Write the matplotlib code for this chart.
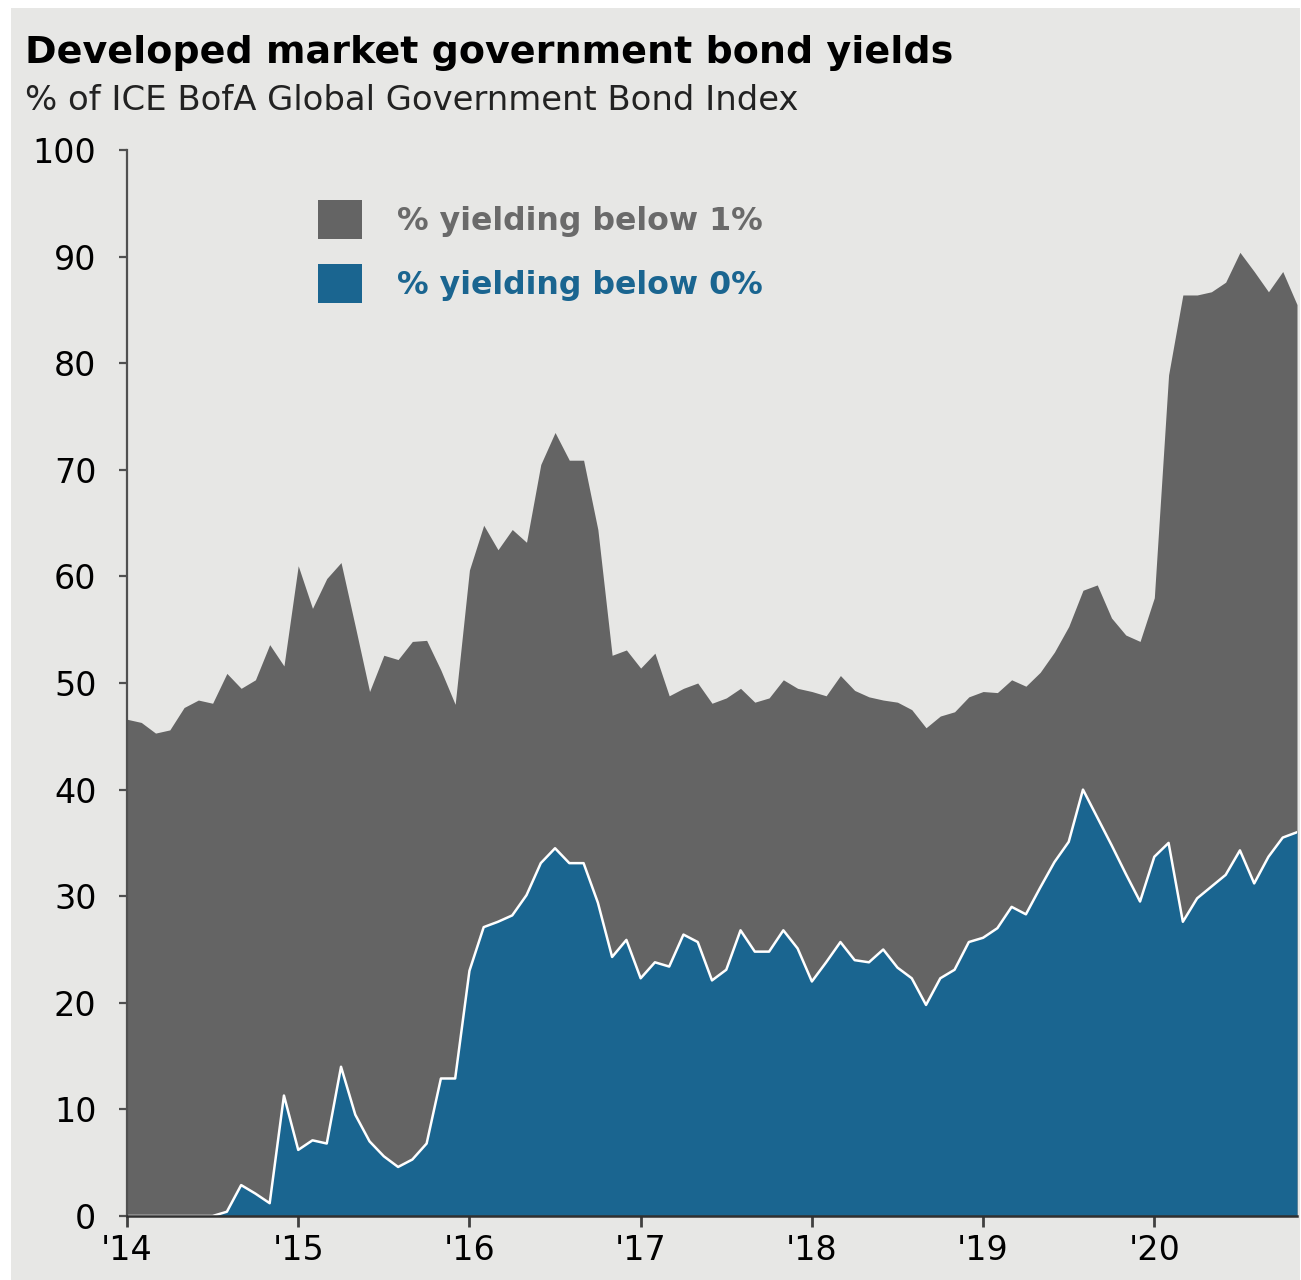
import numpy as np
import matplotlib
matplotlib.use("Agg")
import matplotlib.pyplot as plt
from matplotlib.patches import Rectangle, Patch

plt.rcParams['font.family'] = ['DejaVu Sans']

# monthly readings, Jan 2014 .. Nov 2020 (% of index)
below_1pct = [
    46.6, 46.3, 45.3, 45.6, 47.7, 48.4, 48.1, 50.9, 49.5, 50.3, 53.6, 51.6,   # 2014
    61.0, 57.0, 59.8, 61.3, 55.3, 49.2, 52.6, 52.2, 53.9, 54.0, 51.2, 48.0,   # 2015
    60.6, 64.8, 62.5, 64.4, 63.2, 70.5, 73.5, 70.9, 70.9, 64.4, 52.6, 53.1,   # 2016
    51.4, 52.8, 48.8, 49.5, 50.0, 48.1, 48.6, 49.5, 48.2, 48.6, 50.3, 49.5,   # 2017
    49.2, 48.8, 50.7, 49.3, 48.7, 48.4, 48.2, 47.5, 45.8, 46.9, 47.3, 48.7,   # 2018
    49.2, 49.1, 50.3, 49.7, 51.0, 52.9, 55.3, 58.7, 59.2, 56.1, 54.5, 53.9,   # 2019
    58.0, 78.9, 86.4, 86.4, 86.7, 87.6, 90.4, 88.6, 86.7, 88.6, 85.5,         # 2020
]
below_0pct = [
    0.0, 0.0, 0.0, 0.0, 0.0, 0.0, 0.0, 0.4, 2.9, 2.1, 1.2, 11.3,
    6.2, 7.1, 6.8, 14.0, 9.5, 7.0, 5.6, 4.6, 5.3, 6.8, 12.9, 12.9,
    23.0, 27.1, 27.6, 28.2, 30.1, 33.1, 34.5, 33.1, 33.1, 29.4, 24.3, 25.9,
    22.3, 23.8, 23.4, 26.4, 25.7, 22.1, 23.1, 26.8, 24.8, 24.8, 26.8, 25.1,
    22.0, 23.8, 25.7, 24.0, 23.8, 25.0, 23.3, 22.3, 19.8, 22.3, 23.1, 25.7,
    26.1, 27.0, 29.0, 28.3, 30.8, 33.2, 35.1, 40.0, 37.4, 34.8, 32.1, 29.5,
    33.7, 35.0, 27.6, 29.8, 30.9, 32.0, 34.3, 31.2, 33.7, 35.5, 36.0,
]
year_labels = ["'14", "'15", "'16", "'17", "'18", "'19", "'20"]
series_labels = ['% yielding below 1%', '% yielding below 0%']

GREY = '#646464'
BLUE = '#1a6590'
BG = '#e7e7e5'

months = np.arange(len(below_1pct))

fig = plt.figure(figsize=(13.01, 12.80), dpi=100)
fig.patch.set_facecolor('white')
fig.patches.append(Rectangle((11 / 1301, 0), 1289 / 1301, 1 - 8 / 1280,
                             transform=fig.transFigure, facecolor=BG,
                             edgecolor='none', zorder=-10))

ax = fig.add_axes([127 / 1301, 64 / 1280, 1170 / 1301, 1066 / 1280])
ax.set_facecolor('none')

ax.fill_between(months, 0, below_1pct, color=GREY, lw=0, label=series_labels[0])
ax.fill_between(months, 0, below_0pct, color=BLUE, lw=0, label=series_labels[1])
ax.plot(months, below_0pct, color='white', lw=1.8)

ax.set_xlim(0, months[-1])
ax.set_ylim(0, 100)
ax.set_yticks(np.arange(0, 101, 10))
ax.set_xticks(np.arange(0, 73, 12))
ax.set_xticklabels(year_labels)

for s in ['top', 'right']:
    ax.spines[s].set_visible(False)
ax.spines['left'].set_color('#505050')
ax.spines['left'].set_linewidth(1.6)
ax.spines['bottom'].set_color('#303030')
ax.spines['bottom'].set_linewidth(1.8)
ax.spines['bottom'].set_zorder(5)

ax.tick_params(axis='y', direction='out', length=6, width=1.6, color='#505050',
               labelsize=24, pad=16, labelcolor='black')
ax.tick_params(axis='x', direction='out', length=8, width=2.0, color='#404040',
               labelsize=24, pad=5, labelcolor='black')

handles = [Patch(facecolor=GREY, edgecolor='none'),
           Patch(facecolor=BLUE, edgecolor='none')]
leg = ax.legend(handles, series_labels, loc='upper left',
                bbox_to_anchor=(0.1632, 0.953), frameon=False,
                borderpad=0, borderaxespad=0,
                prop={'weight': 'bold', 'size': 22.8},
                handlelength=1.39, handleheight=1.5, handletextpad=1.1,
                labelspacing=0.8)
leg.get_texts()[0].set_color('#6a6a6a')
leg.get_texts()[1].set_color(BLUE)

fig.text(25 / 1301, 1 - 63 / 1280, 'Developed market government bond yields',
         fontsize=27.4, fontweight='bold', color='black', va='baseline', ha='left')
fig.text(25 / 1301, 1 - 110 / 1280, '% of ICE BofA Global Government Bond Index',
         fontsize=24.4, color='#222222', va='baseline', ha='left')

fig.savefig('out.png', dpi=100)
